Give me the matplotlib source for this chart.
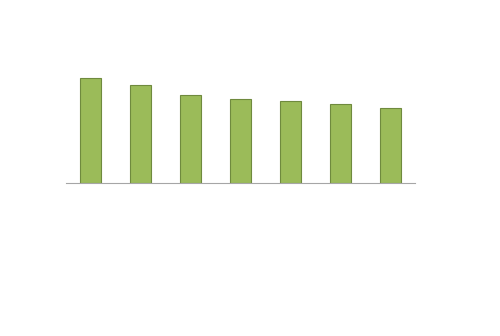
import numpy as np
import matplotlib.pyplot as plt

# no labels in the picture, just 7 bars
categories = ["1", "2", "3", "4", "5", "6", "7"]
values = [105, 98.5, 88.5, 84, 82, 79, 75]

fig = plt.figure(figsize=(5, 3.36), dpi=100)
ax = fig.add_axes([66 / 500, (336 - 183) / 336, (415 - 66) / 500, 153 / 336])

x = np.arange(len(categories))
ax.bar(x, values, width=0.42, color="#9BBB59", edgecolor="#6F8A3E", linewidth=0.8)

ax.set_xlim(-0.5, len(categories) - 0.5)
ax.set_ylim(0, 153)

for s in ["top", "right", "left"]:
    ax.spines[s].set_visible(False)
ax.spines["bottom"].set_color("#A6A6A6")
ax.spines["bottom"].set_linewidth(0.8)
ax.set_xticks([])
ax.set_yticks([])

plt.savefig("out.png")
